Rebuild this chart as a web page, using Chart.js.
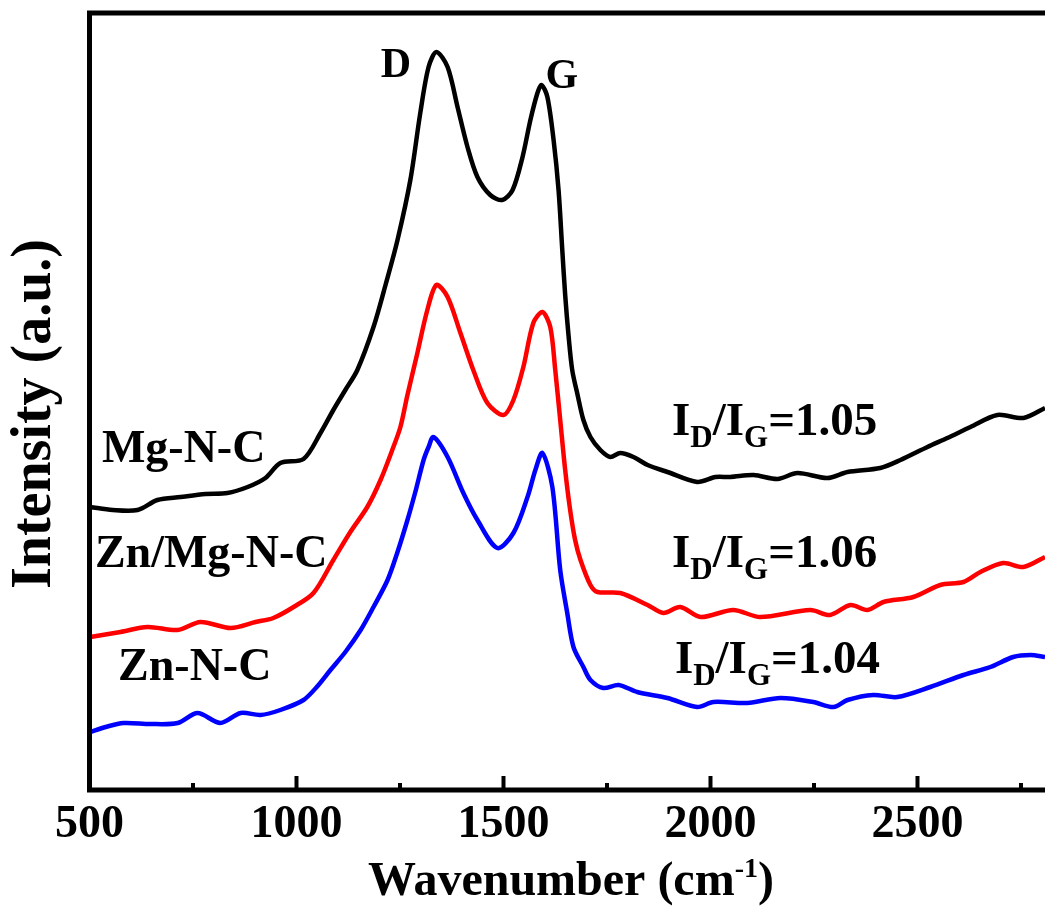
<!DOCTYPE html>
<html><head><meta charset="utf-8">
<script src="https://cdn.jsdelivr.net/npm/chart.js@4.4.1/dist/chart.umd.min.js"></script>
<style>html,body{margin:0;padding:0;background:#fff;overflow:hidden}#wrap{width:1045px;height:908px}</style>
</head><body><div id="wrap"><canvas id="c" width="1045" height="908"></canvas></div>
<script>
// Wavenumber (cm-1) and intensity (a.u.) for each sample
const mgWave = [502,556,616,664,720,780,833,882,925,961,1017,1058,1089,1118,1147,1186,1215,1244,1275,1299,1319,1338,1365,1389,1413,1437,1468,1497,1522,1546,1565,1582,1592,1606,1621,1633,1642,1649,1657,1666,1679,1693,1710,1734,1758,1782,1814,1848,1896,1968,2012,2048,2104,2162,2210,2282,2331,2410,2459,2524,2572,2628,2693,2756,2808];
const mgInt  = [283,280,280,290,293,296,297,303,312,327,331,357,380,400,420,463,505,550,610,677,723,738,723,683,643,613,595,590,600,633,670,697,705,693,650,600,540,495,455,420,395,370,353,340,333,337,333,325,318,308,313,313,315,311,317,312,318,322,330,343,352,363,375,372,382];

const znMgWave = [502,575,640,713,768,841,901,944,993,1041,1089,1130,1171,1203,1234,1251,1268,1292,1316,1338,1365,1396,1427,1461,1500,1524,1548,1572,1594,1613,1625,1637,1649,1661,1673,1686,1710,1727,1782,1848,1886,1927,1976,2055,2120,2241,2289,2338,2379,2418,2490,2555,2611,2652,2707,2756,2808];
const znMgInt  = [153,158,163,160,168,162,168,172,183,197,230,258,283,310,343,363,395,437,480,505,493,457,420,387,375,390,423,467,478,463,420,370,320,280,250,230,205,198,197,185,177,183,173,180,173,180,175,185,180,188,193,205,208,218,227,223,233];

const znWave = [502,539,582,647,713,761,816,865,913,961,1017,1051,1082,1118,1155,1186,1220,1244,1268,1287,1307,1319,1331,1365,1403,1437,1485,1524,1558,1577,1594,1618,1637,1654,1669,1693,1710,1741,1778,1823,1896,1968,2007,2089,2169,2248,2297,2331,2393,2451,2531,2611,2676,2731,2773,2808];
const znInt  = [58,63,67,66,67,77,67,77,75,80,90,104,120,138,160,183,210,238,270,298,330,343,353,333,297,270,242,257,293,320,337,303,220,177,143,123,110,102,105,98,92,83,88,87,92,88,83,90,95,93,103,115,123,133,135,133];

const seriesNames = ['Mg-N-C','Zn/Mg-N-C','Zn-N-C'];
const ratioValues = ['1.05','1.06','1.04'];
const xTicks = [500,1000,1500,2000,2500];
const xMinorTicks = [750,1250,1750,2250,2750];

const FONT = "'Liberation Serif','Times New Roman',serif";
const toPts = (w, v) => w.map((x, i) => ({x: x, y: v[i]}));

function richText(ctx, x, y, parts, size, small, shift) {
  let cx = x;
  parts.forEach(p => {
    const sz = p.s ? small : size;
    ctx.font = 'bold ' + sz + 'px ' + FONT;
    ctx.fillText(p.t, cx, y + (p.s ? p.s * shift : 0));
    cx += ctx.measureText(p.t).width;
  });
  return cx - x;
}
function richWidth(ctx, parts, size, small) {
  let w = 0;
  parts.forEach(p => { ctx.font = 'bold ' + (p.s ? small : size) + 'px ' + FONT; w += ctx.measureText(p.t).width; });
  return w;
}

const decor = {
  id: 'decor',
  afterDraw(chart) {
    const {ctx, chartArea: a, scales: {x: xs, y: ys}} = chart;
    ctx.save();
    ctx.strokeStyle = '#000';
    ctx.fillStyle = '#000';
    // frame
    ctx.lineWidth = 5;
    ctx.lineJoin = 'miter';
    ctx.beginPath();
    ctx.moveTo(a.right + 10, a.top);
    ctx.lineTo(a.left, a.top);
    ctx.lineTo(a.left, a.bottom);
    ctx.lineTo(a.right + 10, a.bottom);
    ctx.stroke();
    // inward ticks
    ctx.lineWidth = 4;
    xTicks.forEach(v => { const px = xs.getPixelForValue(v); ctx.beginPath(); ctx.moveTo(px, a.bottom); ctx.lineTo(px, a.bottom - 14); ctx.stroke(); });
    xMinorTicks.forEach(v => { const px = xs.getPixelForValue(v); ctx.beginPath(); ctx.moveTo(px, a.bottom); ctx.lineTo(px, a.bottom - 7); ctx.stroke(); });

    ctx.textBaseline = 'alphabetic';
    ctx.textAlign = 'left';
    // axis title X
    const xt = [{t:'Wavenumber (cm'},{t:'-1', s:-1},{t:')'}];
    const xw = richWidth(ctx, xt, 48, 28);
    richText(ctx, 571 - xw / 2, 895, xt, 48, 28, 18);
    // axis title Y
    ctx.save();
    ctx.translate(50, 414);
    ctx.rotate(-Math.PI / 2);
    ctx.font = 'bold 56px ' + FONT;
    ctx.textAlign = 'center';
    ctx.fillText('Intensity (a.u.)', 0, 0);
    ctx.restore();

    // peak labels
    ctx.font = 'bold 42px ' + FONT;
    ctx.textAlign = 'center';
    ctx.fillText('D', xs.getPixelForValue(1240), ys.getPixelForValue(713));
    ctx.fillText('G', xs.getPixelForValue(1641), ys.getPixelForValue(702));

    // sample labels
    ctx.textAlign = 'left';
    ctx.font = 'bold 46px ' + FONT;
    const sampleAnchors = [[530, 328], [513, 223], [569, 110]];
    seriesNames.forEach((n, i) => ctx.fillText(n, xs.getPixelForValue(sampleAnchors[i][0]), ys.getPixelForValue(sampleAnchors[i][1])));

    // ratio labels
    const ratioAnchors = [[1907, 355], [1907, 223], [1914, 117]];
    ratioValues.forEach((r, i) => {
      const parts = [{t:'I'},{t:'D', s:1},{t:'/'},{t:'I'},{t:'G', s:1},{t:'=' + r}];
      richText(ctx, xs.getPixelForValue(ratioAnchors[i][0]), ys.getPixelForValue(ratioAnchors[i][1]), parts, 47, 31, 12);
    });
    ctx.restore();
  }
};

const line = (label, pts, color) => ({
  label, data: pts, borderColor: color, backgroundColor: color,
  borderWidth: 4.5, pointRadius: 0, fill: false, tension: 0.3
});

new Chart(document.getElementById('c'), {
  type: 'line',
  data: {
    datasets: [
      line(seriesNames[0], toPts(mgWave, mgInt), '#000000'),
      line(seriesNames[1], toPts(znMgWave, znMgInt), '#ff0000'),
      line(seriesNames[2], toPts(znWave, znInt), '#0000ff')
    ]
  },
  options: {
    responsive: false,
    animation: false,
    devicePixelRatio: 1,
    layout: {padding: {top: 13, right: 0, bottom: 0, left: 0}},
    plugins: {legend: {display: false}, tooltip: {enabled: false}},
    scales: {
      x: {
        type: 'linear', min: 500, max: 2808,
        afterBuildTicks: s => { s.ticks = xTicks.map(v => ({value: v})); },
        afterFit: s => { s.height = 118; },
        ticks: {font: {family: FONT, size: 46, weight: 'bold'}, color: '#000', padding: 8, maxRotation: 0, autoSkip: false,
                callback: v => String(v)},
        grid: {display: false, drawTicks: false},
        border: {display: false}
      },
      y: {
        min: 0, max: 777,
        afterFit: s => { s.width = 89.5; },
        ticks: {display: false},
        grid: {display: false, drawTicks: false},
        border: {display: false}
      }
    }
  },
  plugins: [decor]
});
</script>
</body></html>
